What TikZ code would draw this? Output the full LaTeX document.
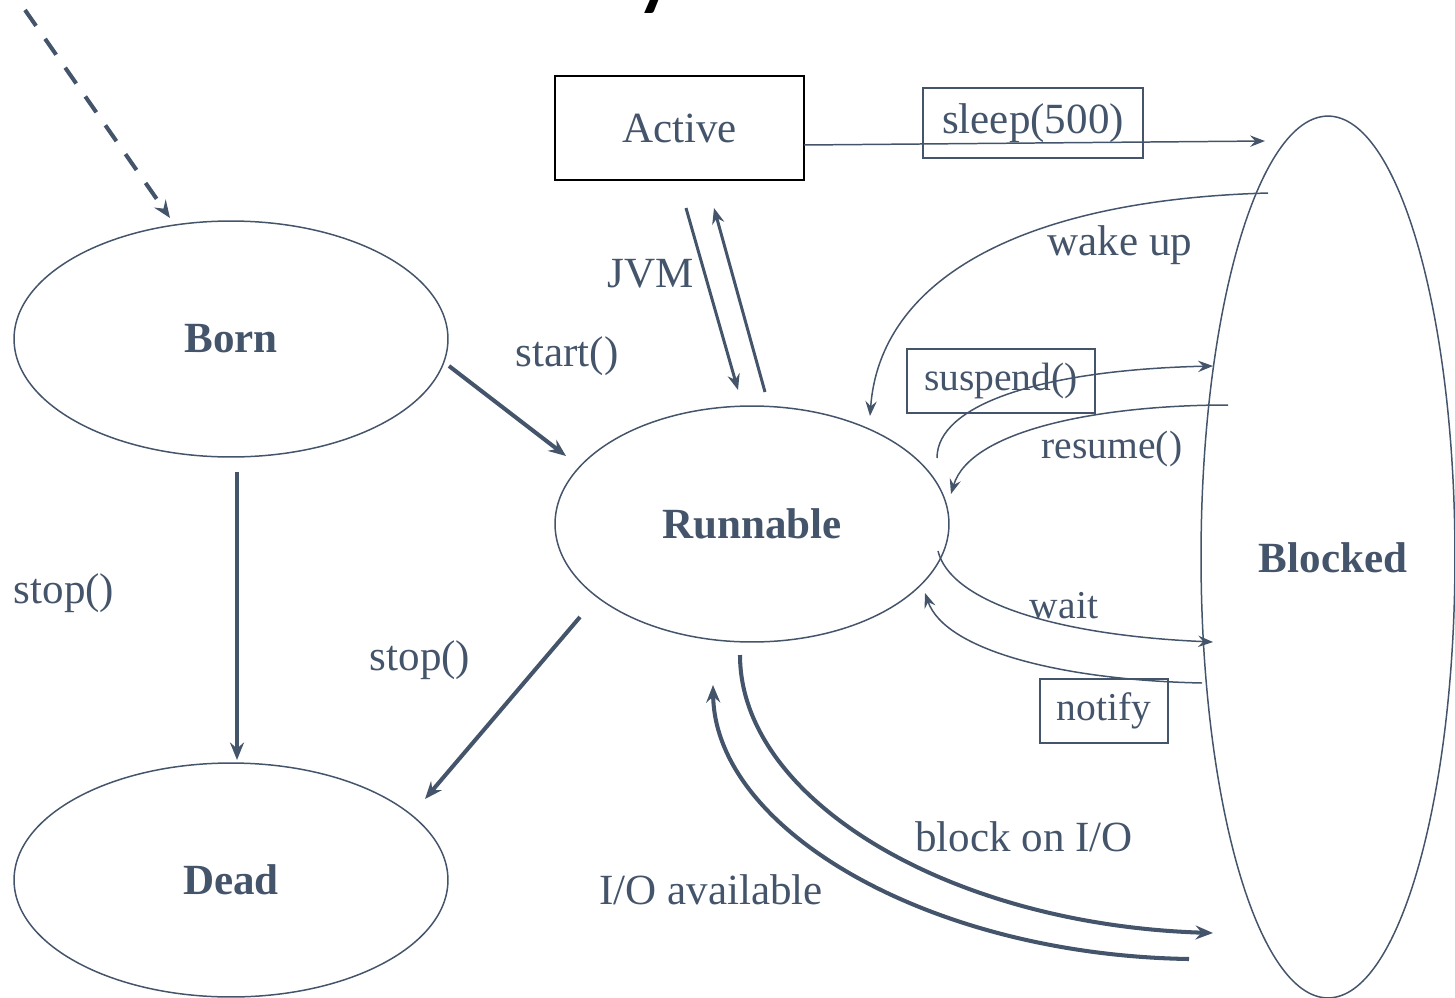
\documentclass[tikz,border=0pt]{standalone}
\usepackage{fontspec}
\setmainfont{Liberation Serif}
\newfontfamily\titlefont{Carlito}
\usetikzlibrary{arrows.meta,shapes.geometric,calc}
\definecolor{ink}{HTML}{44546A}

\begin{document}
\begin{tikzpicture}[x=0.02cm,y=-0.02cm,
  lbl/.style={text=ink,font=\fontsize{24.5}{26}\selectfont,inner sep=0pt},
  small/.style={font=\fontsize{22.5}{24}\selectfont},
  state/.style={ellipse,draw=ink,line width=0.85pt,inner sep=0pt,
    text=ink,font=\bfseries\fontsize{24.5}{26}\selectfont},
  tagbox/.style={rectangle,draw=ink,line width=0.8pt,inner sep=0pt,
    text=ink,font=\fontsize{24.5}{26}\selectfont},
  thinarrow/.style={draw=ink,line width=0.85pt,
    -{Stealth[length=8.5pt,width=6.5pt,inset=3pt]}},
  midarrow/.style={draw=ink,line width=1.7pt,
    -{Stealth[length=9pt,width=7pt,inset=3pt]}},
  thickarrow/.style={draw=ink,line width=2.3pt,
    -{Stealth[length=10pt,width=8pt,inset=3.5pt]}},
  dasharrow/.style={draw=ink,line width=2.3pt,dash pattern=on 11pt off 9pt,
    -{Stealth[length=10pt,width=8pt,inset=3.5pt]}}]
\useasboundingbox (0,0) rectangle (1455,998);

% heading, mostly above the page edge
\node[anchor=base west,inner sep=0pt,font=\titlefont\fontsize{60}{60}\selectfont]
  (title) at (78,-3.5) {Thread Life Cycle};

% states
\node[state,minimum width=8.68cm,minimum height=4.72cm] (born) at (231,339) {Born};
\node[state,minimum width=8.68cm,minimum height=4.68cm] (dead) at (231,880) {Dead};
\node[state,minimum width=7.88cm,minimum height=4.72cm] (run) at (752,524) {Runnable};
\node[state,minimum width=5.08cm,minimum height=17.64cm] (blocked) at (1328,557) {};
\node[text=ink,font=\bfseries\fontsize{24.5}{26}\selectfont] (blockedtxt) at (1333,558) {Blocked};
\node[rectangle,draw=black,line width=1.2pt,minimum width=4.98cm,minimum height=2.08cm,
  text=ink,font=\fontsize{24.5}{26}\selectfont] (active) at (679.5,128) {Active};

% boxed transition labels
\node[tagbox,minimum width=4.4cm,minimum height=1.4cm] (sleep) at (1033,123) {sleep(500)};
\node[tagbox,small,minimum width=3.76cm,minimum height=1.28cm] (susp) at (1001,381) {suspend()};
\node[tagbox,small,minimum width=2.56cm,minimum height=1.28cm] (notify) at (1104,711) {notify};

% plain transition labels
\node[lbl] (lstart) at (567,356) {start()};
\node[lbl] (ljvm) at (651,274) {JVM};
\node[lbl] (lstop1) at (64,593) {stop()};
\node[lbl] (lstop2) at (420,660) {stop()};
\node[lbl] (lwake) at (1120,245) {wake up};
\node[lbl,small] (lresume) at (1112,449) {resume()};
\node[lbl,small] (lwait) at (1064,606) {wait};
\node[lbl] (lblock) at (1024,837) {block on I/O};
\node[lbl] (lio) at (711,890) {I/O available};

% entry into the life cycle
\coordinate (entry) at (25,10);
\draw[dasharrow] (entry) -- ($(born)+(-61,-121)$);

% straight transitions
\draw[thickarrow] ($(born)+(218,27)$) -- ($(run)+(-186,-68)$);
\draw[midarrow] ($(active)+(6.5,80)$) -- ($(run)+(-14,-134)$);
\draw[midarrow] ($(run)+(13,-132)$) -- ($(active)+(34.5,80)$);
\draw[thickarrow] ($(born)+(6,133)$) -- ($(dead)+(6,-120)$);
\draw[thickarrow] ($(run)+(-172,93)$) -- ($(dead)+(194,-81)$);
\draw[thinarrow] ($(active)+(124.5,17)$) -- ($(blocked)+(-63,-416)$);

% curved transitions between Runnable and Blocked
\draw[thinarrow] ($(blocked)+(-60,-364)$) .. controls +(-248,7) and +(10,-136) .. ($(run)+(118,-108)$);
\draw[thinarrow] ($(run)+(185,-66)$) .. controls +(0,-53) and +(-173,4) .. ($(blocked)+(-115,-191)$);
\draw[thinarrow] ($(blocked)+(-100,-152)$) .. controls +(-128,0) and +(19,-64) .. ($(run)+(199,-30)$);
\draw[thinarrow] ($(run)+(186,27)$) .. controls +(12,49) and +(-163,-7) .. ($(blocked)+(-115,85)$);
\draw[thinarrow] ($(blocked)+(-126,126)$) .. controls +(-142,-3) and +(20,57) .. ($(run)+(173,69)$);
\draw[thickarrow] ($(run)+(-12,131)$) .. controls +(0,145) and +(-263,-8) .. ($(blocked)+(-115,376)$);
\draw[thickarrow] ($(blocked)+(-139,402)$) .. controls +(-259,-4) and +(2,145) .. ($(run)+(-39,161)$);
\end{tikzpicture}
\end{document}
